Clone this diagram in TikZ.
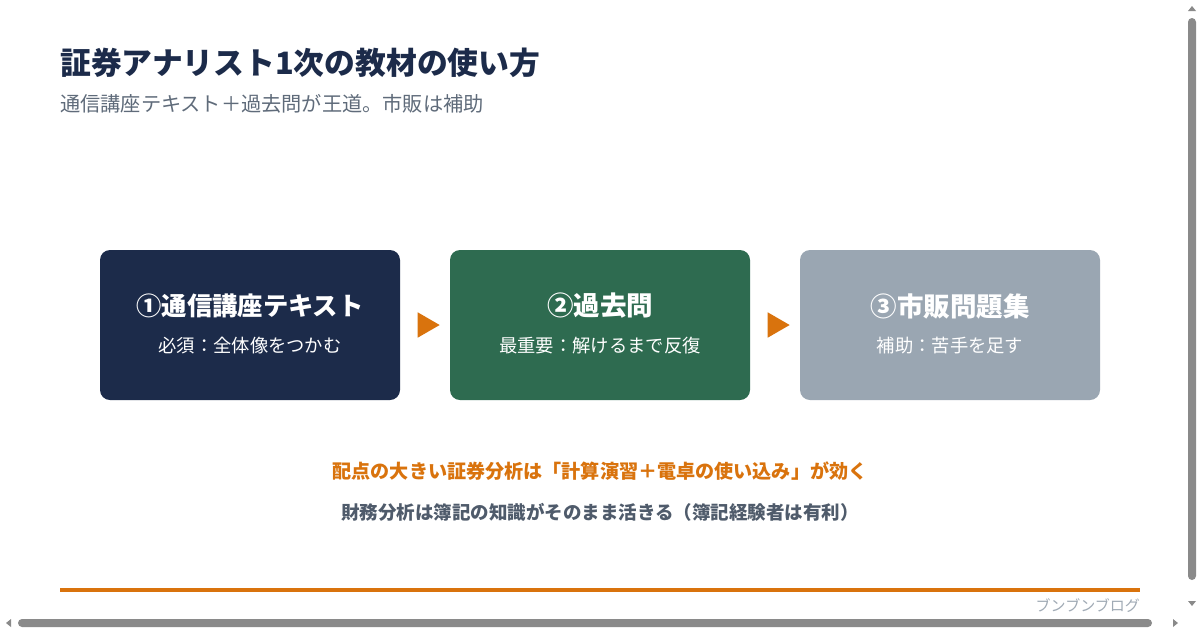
\documentclass[tikz,border=0pt]{standalone}
\usepackage{fontspec}
\setmainfont{Noto Sans CJK JP}
\usetikzlibrary{shapes.geometric,calc}
\definecolor{navy}{HTML}{1C2B4A}
\definecolor{forest}{HTML}{2E6B50}
\definecolor{slate}{HTML}{9AA6B2}
\definecolor{accent}{HTML}{D9730D}
\definecolor{subgray}{HTML}{5F6B7A}
\definecolor{notegray}{HTML}{4F5B6B}
\definecolor{footgray}{HTML}{A0AAB5}
\definecolor{scroll}{HTML}{8A8A8A}
\tikzset{
  stepbox/.style={rounded corners=10pt, minimum width=300pt, minimum height=150pt, inner sep=0pt, draw=none},
  boxtitle/.style={text=white, font=\fontsize{26.5}{30}\selectfont\bfseries, anchor=center},
  boxsub/.style={text=white, font=\fontsize{18.3}{22}\selectfont, anchor=center},
  tri/.style={isosceles triangle, isosceles triangle apex angle=60, fill=accent, inner sep=0pt, minimum height=22pt, minimum width=25pt, shape border rotate=0},
  sbar/.style={fill=scroll, rounded corners=4pt},
}
\begin{document}
\begin{tikzpicture}[x=1pt,y=-1pt]
\useasboundingbox[fill=white] (0,0) rectangle (1200,630);
% title
\node[anchor=base west, inner sep=0pt, text=navy, font=\fontsize{30.8}{34}\selectfont\bfseries] (title) at (60,74) {証券アナリスト1次の教材の使い方};
\node[anchor=base west, inner sep=0pt, text=subgray, font=\fontsize{20.2}{24}\selectfont] (subtitle) at (60,111) {通信講座テキスト＋過去問が王道。市販は補助};
% boxes
\node[stepbox, fill=navy] (b1) at (250,325) {};
\node[stepbox, fill=forest] (b2) at (600,325) {};
\node[stepbox, fill=slate] (b3) at (950,325) {};
\node[boxtitle, font=\fontsize{25.3}{30}\selectfont\bfseries] (t1) at (250,306) {①通信講座テキスト};
\node[boxsub] (s1) at (250,346) {必須：全体像をつかむ};
\node[boxtitle] (t2) at (600,306) {②過去問};
\node[boxsub] (s2) at (600,346) {最重要：解けるまで反復};
\node[boxtitle] (t3) at (950,306) {③市販問題集};
\node[boxsub] (s3) at (950,346) {補助：苦手を足す};
% arrows
\node[tri] (a1) at ($(b1.east)!0.5!(b2.west)$) {};
\node[tri] (a2) at ($(b2.east)!0.5!(b3.west)$) {};
% notes
\node[text=accent, font=\fontsize{19.1}{23}\selectfont\bfseries] (n1) at (600,471) {配点の大きい証券分析は「計算演習＋電卓の使い込み」が効く};
\node[text=notegray, font=\fontsize{18.5}{22}\selectfont\bfseries] (n2) at (600,512) {財務分析は簿記の知識がそのまま活きる（簿記経験者は有利）};
% footer
\coordinate (l1) at (60,590);
\coordinate (l2) at (1140,590);
\draw[accent, line width=4pt] (l1) -- (l2);
\node[anchor=east, inner sep=0pt, text=footgray, font=\fontsize{15}{18}\selectfont] (foot) at (1140,606) {ブンブンブログ};
% scrollbars
\fill[sbar] (1188,18) rectangle (1196,580);
\fill[sbar] (18,619) rectangle (1152,627);
\fill[scroll] (1188,11) -- (1196,11) -- (1192,6) -- cycle;
\fill[scroll] (1188,601) -- (1196,601) -- (1192,606) -- cycle;
\fill[scroll] (11,619) -- (11,627) -- (6,623) -- cycle;
\fill[scroll] (1173,619) -- (1173,627) -- (1178,623) -- cycle;
\end{tikzpicture}
\end{document}
